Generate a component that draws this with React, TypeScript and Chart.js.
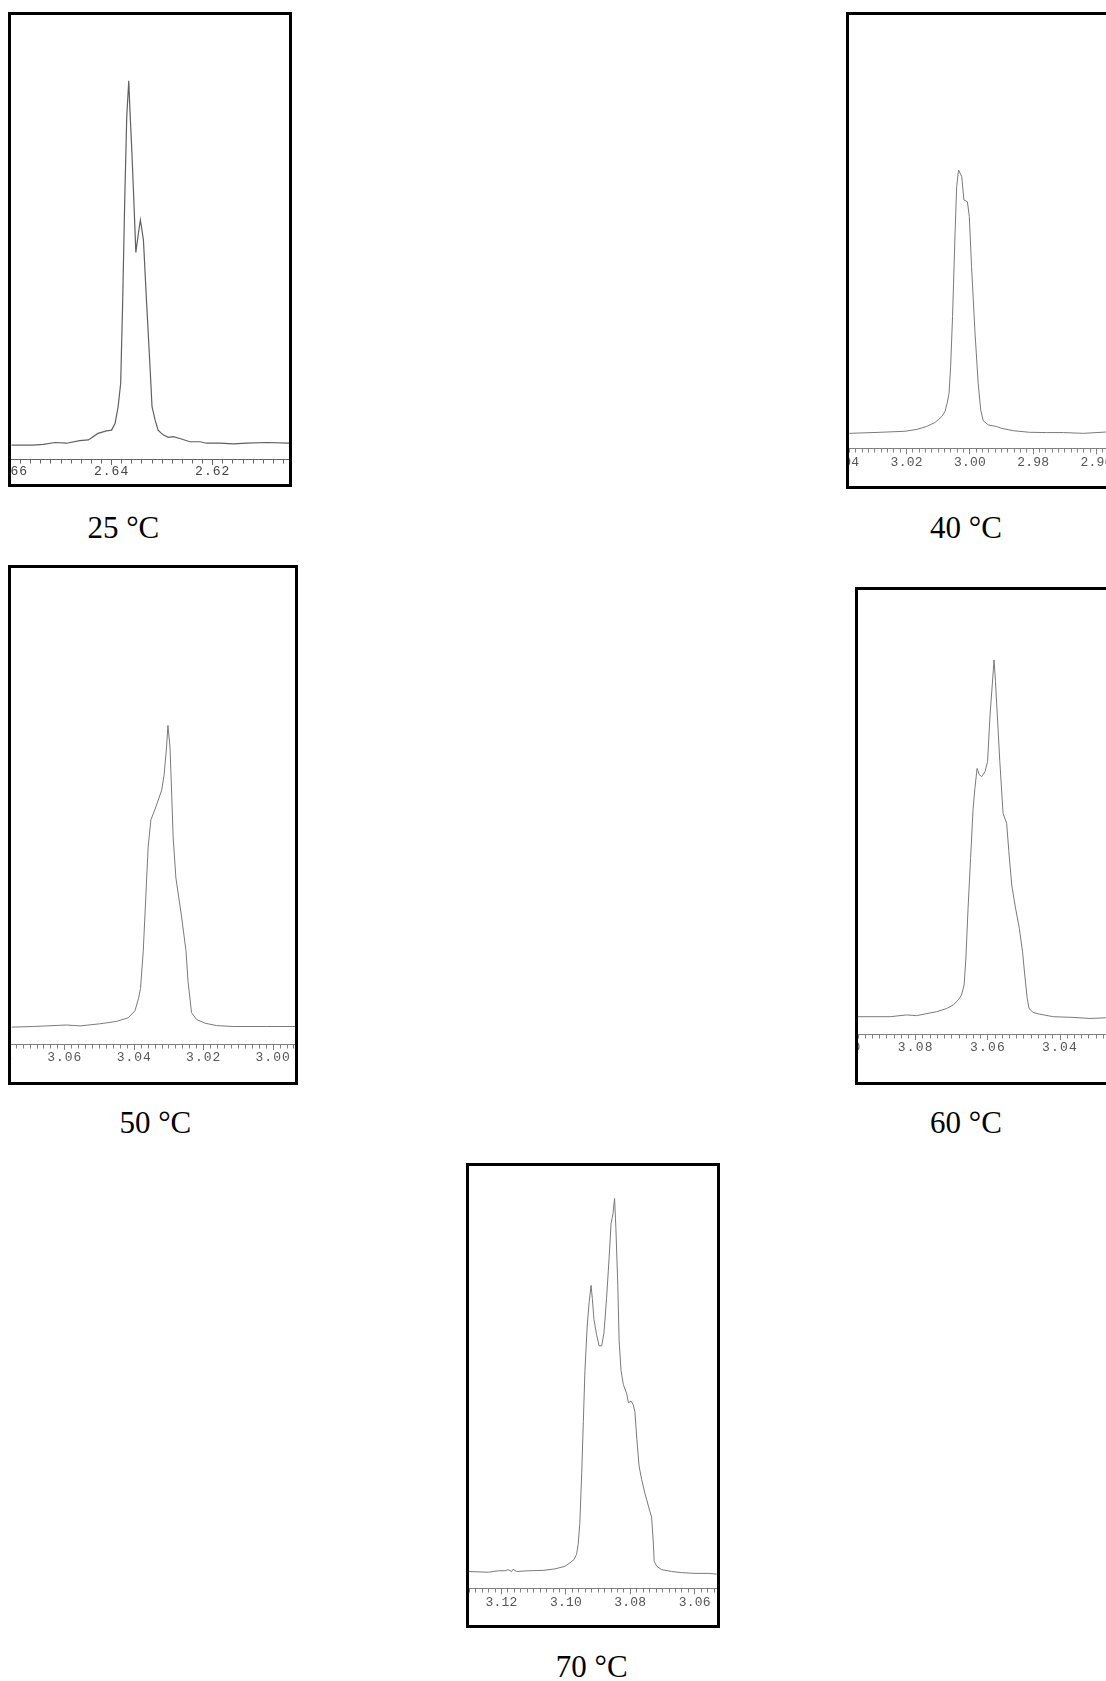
import React, { useEffect, useRef } from 'react';
import { Chart, registerables } from 'chart.js';

Chart.register(...registerables);

// ---------- data (chemical shift in ppm, relative intensity) ----------
const ppm25 = [2.6598, 2.6555, 2.6535, 2.6512, 2.6489, 2.6463, 2.6446, 2.6427, 2.6410, 2.6400, 2.6393, 2.6387, 2.6382, 2.6378, 2.6374, 2.6370, 2.6366, 2.6364, 2.6360, 2.6356, 2.6352, 2.6347, 2.6343, 2.6337, 2.6331, 2.6324, 2.6320, 2.6314, 2.6308, 2.6298, 2.6288, 2.6278, 2.6265, 2.6245, 2.6225, 2.6212, 2.6186, 2.6159, 2.6133, 2.6093, 2.6048];
const int25 = [-0.2, -0.2, 0, 0.5, 0.3, 1.0, 1.2, 3.0, 3.7, 3.9, 5.8, 10.4, 16.8, 39.7, 67.2, 90.1, 100, 92.9, 80.9, 67.2, 52.8, 58.0, 61.7, 56.2, 39.7, 21.4, 10.4, 6.7, 3.9, 2.6, 1.9, 2.1, 1.6, 0.7, 0.7, 0.3, 0.3, 0.1, 0.3, 0.5, 0.3];

const ppm40 = [3.0381, 3.0284, 3.0205, 3.0168, 3.0137, 3.0111, 3.0089, 3.0079, 3.0072, 3.0066, 3.0061, 3.0055, 3.0047, 3.0042, 3.0036, 3.0026, 3.0019, 3.0008, 3.0002, 2.9995, 2.9984, 2.9974, 2.9966, 2.9958, 2.9942, 2.9916, 2.9900, 2.9863, 2.9811, 2.9758, 2.9705, 2.9642, 2.9571, 2.9504];
const int40 = [-0.4, 0, 0.4, 1.1, 2.2, 3.7, 6.0, 7.9, 11.1, 14.9, 25.0, 44.1, 75.9, 93.6, 100, 97.5, 88.6, 87.9, 82.2, 63.2, 37.8, 18.7, 8.5, 4.4, 2.8, 2.2, 1.5, 0.6, 0, -0.1, -0.1, -0.4, 0.1, 0.1];

const ppm50 = [3.0753, 3.0691, 3.0595, 3.0556, 3.0499, 3.0451, 3.0417, 3.0398, 3.0388, 3.0382, 3.0374, 3.0367, 3.0360, 3.0352, 3.0340, 3.0321, 3.0314, 3.0307, 3.0303, 3.0297, 3.0292, 3.0288, 3.0280, 3.0264, 3.0251, 3.0245, 3.0235, 3.0220, 3.0196, 3.0163, 3.0115, 3.0019, 2.9934];
const int50 = [-0.2, 0, 0.5, 0.2, 0.9, 1.7, 2.9, 5.2, 9.2, 12.6, 25.2, 42.4, 59.6, 68.7, 72.2, 78.5, 83.6, 92.8, 100, 92.8, 76.7, 63.0, 49.3, 36.7, 25.2, 14.9, 4.6, 2.3, 1.1, 0.3, 0, 0, 0];

const ppm60 = [3.0964, 3.0871, 3.0825, 3.0798, 3.0742, 3.0714, 3.0696, 3.0682, 3.0673, 3.0666, 3.0661, 3.0655, 3.0648, 3.0641, 3.0636, 3.0630, 3.0624, 3.0617, 3.0608, 3.0601, 3.0594, 3.0588, 3.0583, 3.0579, 3.0574, 3.0567, 3.0558, 3.0548, 3.0542, 3.0534, 3.0525, 3.0513, 3.0504, 3.0498, 3.0491, 3.0486, 3.0475, 3.0456, 3.0419, 3.0364, 3.0317, 3.0273, 3.0080];
const int60 = [0, 0, 0.5, 0.3, 1.4, 2.3, 3.3, 4.7, 6.1, 8.9, 16.4, 30.4, 44.4, 58.4, 64.0, 69.6, 67.8, 67.3, 68.7, 71.5, 84.6, 93.0, 100, 93.9, 84.6, 71.5, 57.0, 54.2, 46.3, 36.9, 31.3, 24.8, 18.2, 11.7, 5.1, 2.3, 1.2, 0.7, 0, -0.2, -0.5, -0.3, -0.4];

const ppm70 = [3.1303, 3.1241, 3.1210, 3.1189, 3.1179, 3.1169, 3.1164, 3.1153, 3.1117, 3.1071, 3.1034, 3.1003, 3.0988, 3.0975, 3.0967, 3.0962, 3.0957, 3.0951, 3.0946, 3.0941, 3.0934, 3.0928, 3.0922, 3.0918, 3.0913, 3.0905, 3.0897, 3.0889, 3.0882, 3.0874, 3.0866, 3.0860, 3.0854, 3.0849, 3.0845, 3.0839, 3.0835, 3.0829, 3.0822, 3.0811, 3.0806, 3.0798, 3.0791, 3.0786, 3.0780, 3.0773, 3.0765, 3.0755, 3.0739, 3.0734, 3.0729, 3.0726, 3.0718, 3.0703, 3.0672, 3.0641, 3.0599, 3.0558, 3.0532];
const int70 = [0, -0.2, 0.2, 0.2, 0.5, 0, 0.6, 0, 0.2, 0.3, 0.7, 1.4, 2.3, 3.2, 4.6, 7.3, 12.8, 26.5, 40.2, 53.9, 65.8, 72.1, 76.7, 73.1, 67.6, 63.5, 60.5, 60.5, 63.9, 73.1, 84.0, 93.2, 95.9, 100, 92.2, 76.7, 62.1, 53.9, 50.2, 47.5, 45.2, 45.7, 44.7, 42.9, 35.6, 28.3, 24.7, 21.0, 16.0, 14.6, 8.2, 2.7, 1.4, 0.5, 0, -0.3, -0.5, -0.5, -0.7];

// tick labels (major ticks) and captions
const labels25 = ['2.66', '2.64', '2.62'];
const labels40 = ['3.04', '3.02', '3.00', '2.98', '2.96'];
const labels50 = ['3.08', '3.06', '3.04', '3.02', '3.00'];
const labels60 = ['3.10', '3.08', '3.06', '3.04', '3.02'];
const labels70 = ['3.12', '3.10', '3.08', '3.06'];
const captions = ['25 °C', '40 °C', '50 °C', '60 °C', '70 °C'];

const MINOR = 0.002;
const MAJOR = 0.02;

type Panel = {
  ppm: number[]; inten: number[]; labels: string[];
  left: number; top: number; w: number; h: number;
  xMin: number; xMax: number; yMin: number; yMax: number;
  axisH: number; labelPad: number; fontSize: number; spacing: number;
  line: string; lineW: number; axis: string; text: string;
};

const panels: Panel[] = [
  { ppm: ppm25, inten: int25, labels: labels25, left: 8, top: 12, w: 284, h: 475,
    xMin: 2.6049, xMax: 2.6599, yMin: -4.04, yMax: 118.1, axisH: 25, labelPad: -0.8, fontSize: 13, spacing: 1,
    line: '#606060', lineW: 1.2, axis: '#666', text: '#444' },
  { ppm: ppm40, inten: int40, labels: labels40, left: 846, top: 12, w: 284, h: 477,
    xMin: 2.9504, xMax: 3.0382, yMin: -6.1, yMax: 159.1, axisH: 37.7, labelPad: 0.6, fontSize: 13, spacing: 0.2,
    line: '#7a7a7a', lineW: 1, axis: '#808080', text: '#555' },
  { ppm: ppm50, inten: int50, labels: labels50, left: 8, top: 565, w: 290, h: 520,
    xMin: 2.9937, xMax: 3.0755, yMin: -5.81, yMax: 152.3, axisH: 38, labelPad: -0.6, fontSize: 13, spacing: 1,
    line: '#7a7a7a', lineW: 1, axis: '#808080', text: '#555' },
  { ppm: ppm60, inten: int60, labels: labels60, left: 855, top: 587, w: 290, h: 498,
    xMin: 3.0173, xMax: 3.0960, yMin: -4.85, yMax: 119.6, axisH: 48, labelPad: -0.4, fontSize: 13, spacing: 1.2,
    line: '#7a7a7a', lineW: 1, axis: '#808080', text: '#555' },
  { ppm: ppm70, inten: int70, labels: labels70, left: 466, top: 1163, w: 254, h: 465,
    xMin: 3.0531, xMax: 3.1301, yMin: -4.5, yMax: 108.7, axisH: 36.7, labelPad: 0.3, fontSize: 13, spacing: 0.2,
    line: '#7a7a7a', lineW: 1, axis: '#808080', text: '#555' },
];

const captionPos = [
  { cx: 123.3, base: 538.3 },
  { cx: 966, base: 538.3 },
  { cx: 155.4, base: 1133 },
  { cx: 966, base: 1133 },
  { cx: 591.7, base: 1677.4 },
];

const isMajor = (v: number) => Math.abs(v / MAJOR - Math.round(v / MAJOR)) < 1e-6;

function Spectrum({ p }: { p: Panel }) {
  const ref = useRef<HTMLCanvasElement>(null);
  const iw = p.w - 6;
  const ih = p.h - 6;
  useEffect(() => {
    if (!ref.current) return;
    const spacingPlugin = {
      id: 'letterSpacing',
      beforeDraw(chart: any) {
        try { chart.ctx.letterSpacing = p.spacing + 'px'; } catch (e) { /* ignore */ }
      },
    };
    const chart = new Chart(ref.current, {
      type: 'line',
      data: {
        datasets: [{
          data: p.ppm.map((x, i) => ({ x, y: p.inten[i] })),
          borderColor: p.line,
          borderWidth: p.lineW,
          pointRadius: 0,
          tension: 0,
          fill: false,
        }],
      },
      options: {
        animation: false,
        responsive: false,
        maintainAspectRatio: false,
        events: [],
        layout: { padding: 0, autoPadding: false },
        plugins: { legend: { display: false }, tooltip: { enabled: false }, title: { display: false } },
        scales: {
          x: {
            type: 'linear',
            reverse: true,
            min: p.xMin,
            max: p.xMax,
            bounds: 'data',
            afterBuildTicks: (s: any) => {
              const out: { value: number }[] = [];
              const start = Math.floor((p.xMin - MAJOR) / MINOR);
              const end = Math.ceil((p.xMax + MAJOR) / MINOR);
              for (let k = end; k >= start; k--) out.push({ value: +(k * MINOR).toFixed(4) });
              s.ticks = out;
            },
            afterFit: (s: any) => {
              s.paddingLeft = 0;
              s.paddingRight = 0;
              s.height = p.axisH;
            },
            grid: {
              drawOnChartArea: false,
              drawTicks: true,
              tickLength: 6,
              tickColor: p.axis,
              tickWidth: 1,
              tickBorderDash: (ctx: any) => (ctx.tick && isMajor(ctx.tick.value) ? [] : [3.5, 20]),
            },
            border: { display: true, color: p.axis, width: 1 },
            ticks: {
              autoSkip: false,
              maxRotation: 0,
              minRotation: 0,
              padding: p.labelPad,
              color: p.text,
              font: { family: '"Liberation Mono", "DejaVu Sans Mono", monospace', size: p.fontSize },
              callback: (v: any) => {
                const s = Number(v).toFixed(2);
                return isMajor(Number(v)) && p.labels.includes(s) ? s : '';
              },
            },
          },
          y: { type: 'linear', display: false, min: p.yMin, max: p.yMax },
        },
      },
      plugins: [spacingPlugin],
    } as any);
    return () => chart.destroy();
  }, []);
  return (
    <div style={{
      position: 'absolute', left: p.left, top: p.top, width: p.w, height: p.h,
      border: '3px solid #000', boxSizing: 'border-box', overflow: 'hidden', background: '#fff',
    }}>
      <canvas ref={ref} width={iw} height={ih} style={{ display: 'block', width: iw, height: ih }} />
    </div>
  );
}

export default function App() {
  return (
    <div style={{ position: 'absolute', left: 0, top: 0, width: 1106, height: 1681, overflow: 'hidden', background: '#fff' }}>
      {panels.map((p, i) => <Spectrum key={i} p={p} />)}
      {captions.map((c, i) => (
        <div key={'c' + i} style={{
          position: 'absolute', left: captionPos[i].cx - 100, top: captionPos[i].base - 26, width: 200,
          textAlign: 'center', fontFamily: '"Liberation Serif", "Times New Roman", serif', fontSize: 31,
          lineHeight: '31px', color: '#000', whiteSpace: 'nowrap',
        }}>{c}</div>
      ))}
    </div>
  );
}
